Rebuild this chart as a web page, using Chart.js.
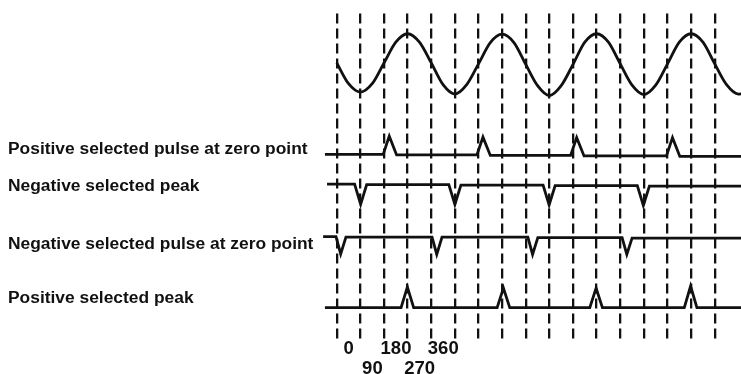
<!DOCTYPE html>
<html>
<head>
<meta charset="utf-8">
<script src="https://cdn.jsdelivr.net/npm/chart.js@4.4.0/dist/chart.umd.min.js"></script>
<style>
  html, body { margin: 0; padding: 0; background: #fff; }
</style>
</head>
<body>
<canvas id="chart" width="741" height="374"></canvas>
<script>
// phase angle in degrees along x, signal level (arbitrary units) along y
var degreeTicks = [0, 90, 180, 270, 360, 450, 540, 630, 720, 810, 900, 990, 1080, 1170, 1260, 1350, 1440];
var degreeLabels = ['0', '90', '180', '270', '360'];

var rowLabels = [
    'Positive selected pulse at zero point',
    'Negative selected peak',
    'Negative selected pulse at zero point',
    'Positive selected peak'
];
var rowLabelLevels = [19.3, 15.53, 9.72, 4.25];

// reference sine wave
var sineX = [0, 45, 90, 135, 180, 225, 270, 315, 360, 405, 450, 495, 540, 585, 630, 675, 720,
    765, 810, 855, 900, 945, 990, 1035, 1080, 1125, 1170, 1215, 1260, 1305, 1350, 1395, 1440,
    1485, 1530, 1545];
var sineY = [28.0, 25.9, 25.05, 25.9, 28.0, 30.1, 30.95, 30.1, 28.0, 25.8, 24.85, 25.8, 27.9,
    30.05, 30.9, 30.05, 27.85, 25.7, 24.7, 25.7, 27.85, 30.1, 30.95, 30.1, 27.9, 25.75, 24.8,
    25.75, 27.9, 30.1, 30.95, 30.1, 27.9, 25.8, 24.85, 24.9];

// positive selected pulse at zero point
var posZeroX = [-45, 177, 200, 228, 534, 557, 585, 891, 914, 942, 1256, 1279, 1307, 1545];
var posZeroY = [18.75, 18.75, 20.6, 18.7, 18.7, 20.5, 18.65, 18.65, 20.45, 18.6, 18.6, 20.45, 18.55, 18.55];

// negative selected peak
var negPeakX = [-37, 68, 91, 114, 427, 450, 473, 786, 809, 832, 1145, 1168, 1191, 1545];
var negPeakY = [15.75, 15.75, 13.7, 15.7, 15.7, 13.7, 15.65, 15.65, 13.65, 15.6, 15.6, 13.6, 15.55, 15.55];

// negative selected pulse at zero point
var negZeroX = [-52, -3, 15, 35, 363, 381, 401, 728, 746, 766, 1087, 1105, 1125, 1545];
var negZeroY = [10.45, 10.45, 8.7, 10.4, 10.4, 8.65, 10.4, 10.4, 8.65, 10.35, 10.35, 8.65, 10.3, 10.3];

// positive selected peak
var posPeakX = [-45, 245, 269, 293, 611, 635, 659, 964, 988, 1012, 1324, 1348, 1372, 1545];
var posPeakY = [3.27, 3.27, 5.35, 3.27, 3.27, 5.25, 3.27, 3.27, 5.25, 3.27, 3.27, 5.45, 3.27, 3.27];

function toPoints(xs, ys) {
    var pts = [];
    for (var i = 0; i < xs.length; i++) {
        pts.push({ x: xs[i], y: ys[i] });
    }
    return pts;
}

function trace(xs, ys, smooth) {
    return {
        data: toPoints(xs, ys),
        borderColor: '#111111',
        borderWidth: 2.8,
        pointRadius: 0,
        fill: false,
        cubicInterpolationMode: smooth ? 'monotone' : 'default',
        tension: 0
    };
}

var ink = '#111111';
var labelFont = { family: '"Liberation Sans", Arial, sans-serif', size: 17.4, weight: 'bold' };
var tickFont = { family: '"Liberation Sans", Arial, sans-serif', size: 18.5, weight: 'bold', lineHeight: 1.08 };

new Chart(document.getElementById('chart'), {
    type: 'line',
    data: {
        datasets: [
            trace(sineX, sineY, true),
            trace(posZeroX, posZeroY, false),
            trace(negPeakX, negPeakY, false),
            trace(negZeroX, negZeroY, false),
            trace(posPeakX, posPeakY, false)
        ]
    },
    options: {
        responsive: false,
        animation: false,
        layout: { padding: { left: 8, top: 10, right: 0, bottom: 0 } },
        plugins: {
            legend: { display: false },
            tooltip: { enabled: false }
        },
        scales: {
            x: {
                type: 'linear',
                min: -60,
                max: 1540,
                afterBuildTicks: function (axis) {
                    axis.ticks = degreeTicks.map(function (v) { return { value: v }; });
                },
                afterFit: function (axis) {
                    axis.height = 35;
                },
                ticks: {
                    autoSkip: false,
                    maxRotation: 0,
                    minRotation: 0,
                    padding: 0,
                    labelOffset: 12,
                    color: ink,
                    font: tickFont,
                    callback: function (value, index) {
                        if (index >= degreeLabels.length) return '';
                        return index % 2 === 0 ? degreeLabels[index] : ['', degreeLabels[index]];
                    }
                },
                grid: {
                    color: ink,
                    lineWidth: 2.3,
                    drawTicks: false
                },
                border: {
                    display: false,
                    dash: [10, 5]
                }
            },
            y: {
                type: 'linear',
                min: 0.1,
                max: 33,
                afterBuildTicks: function (axis) {
                    axis.ticks = rowLabelLevels.map(function (v) { return { value: v }; });
                },
                afterFit: function (axis) {
                    axis.width = 313;
                },
                ticks: {
                    autoSkip: false,
                    crossAlign: 'far',
                    color: ink,
                    font: labelFont,
                    callback: function (value, index) {
                        return rowLabels[index];
                    }
                },
                grid: { display: false },
                border: { display: false }
            }
        }
    }
});
</script>
</body>
</html>
